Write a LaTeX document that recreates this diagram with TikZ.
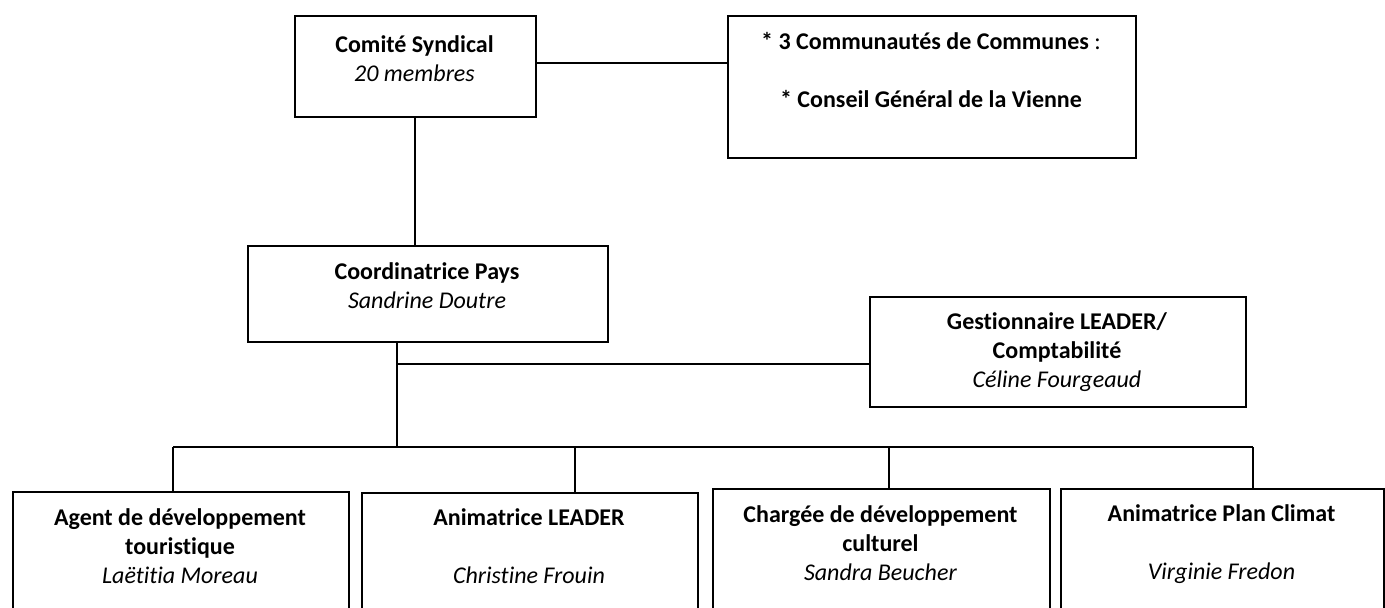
\documentclass[tikz,border=0pt]{standalone}
\usepackage{fontspec}
\setmainfont{Carlito}[Ligatures=NoCommon]
\newcommand\topst{\rule{0pt}{20pt}}
\begin{document}
\begin{tikzpicture}[x=1pt,y=-1pt,
  font=\fontsize{24}{29.3}\selectfont,
  box/.style={draw, line width=1.7pt, inner sep=0pt, anchor=north west},
  lbl/.style={anchor=north, align=center, inner sep=0pt},
  link/.style={line width=1.3pt}]
\useasboundingbox (0,0) rectangle (1385,608);
\clip (0,0) rectangle (1385,608);
% boxes
\node[box, minimum width=241pt, minimum height=101pt] (cs) at (294,15) {};
\node[box, minimum width=408pt, minimum height=142pt] (cc) at (727,15) {};
\node[box, minimum width=360pt, minimum height=96pt]  (cp) at (247,245) {};
\node[box, minimum width=376pt, minimum height=110pt] (gl) at (869,296) {};
\node[box, minimum width=336pt, minimum height=140pt] (b1) at (12,491) {};
\node[box, minimum width=336pt, minimum height=140pt] (b2) at (361,492) {};
\node[box, minimum width=337pt, minimum height=140pt] (b3) at (712,488) {};
\node[box, minimum width=323pt, minimum height=140pt] (b4) at (1060,488) {};
% texts
\node[lbl] (cst) at (414.5,32) {\topst\textbf{Comité Syndical}\\\textit{20 membres}};
\node[lbl] (cct) at (931,29) {\topst\textbf{* 3 Communautés de Communes} :\\[29.3pt]\textbf{* Conseil Général de la Vienne}};
\node[lbl] (cpt) at (427,259) {\topst\textbf{Coordinatrice Pays}\\\textit{Sandrine Doutre}};
\node[lbl] (glt) at (1057,309) {\topst\textbf{Gestionnaire LEADER/}\\\textbf{Comptabilité}\\\textit{Céline Fourgeaud}};
\node[lbl] (b1t) at (180,505) {\topst\textbf{Agent de développement}\\\textbf{touristique}\\\textit{Laëtitia Moreau}};
\node[lbl] (b2t) at (529,505) {\topst\textbf{Animatrice LEADER}\\[29.3pt]\textit{Christine Frouin}};
\node[lbl] (b3t) at (880.5,502) {\topst\textbf{Chargée de développement}\\\textbf{culturel}\\\textit{Sandra Beucher}};
\node[lbl] (b4t) at (1221.5,501) {\topst\textbf{Animatrice Plan Climat}\\[29.3pt]\textit{Virginie Fredon}};
% junction coordinates
\coordinate (top) at (535,63);
\coordinate (down) at (415,116);
\coordinate (j) at (397,447);
\coordinate (br) at (397,364);
\coordinate (d1) at (173,447);
\coordinate (d2) at (575,447);
\coordinate (d3) at (889,447);
\coordinate (d4) at (1253,447);
% connectors
\draw[link] (top) -- (top -| cc.west);
\draw[link] (down) -- (down |- cp.north);
\draw[link] (j |- cp.south) -- (j);
\draw[link] (br) -- (br -| gl.west);
\draw[link] (d1) -- (d4);
\draw[link] (d1) -- (d1 |- b1.north);
\draw[link] (d2) -- (d2 |- b2.north);
\draw[link] (d3) -- (d3 |- b3.north);
\draw[link] (d4) -- (d4 |- b4.north);
\end{tikzpicture}
\end{document}
